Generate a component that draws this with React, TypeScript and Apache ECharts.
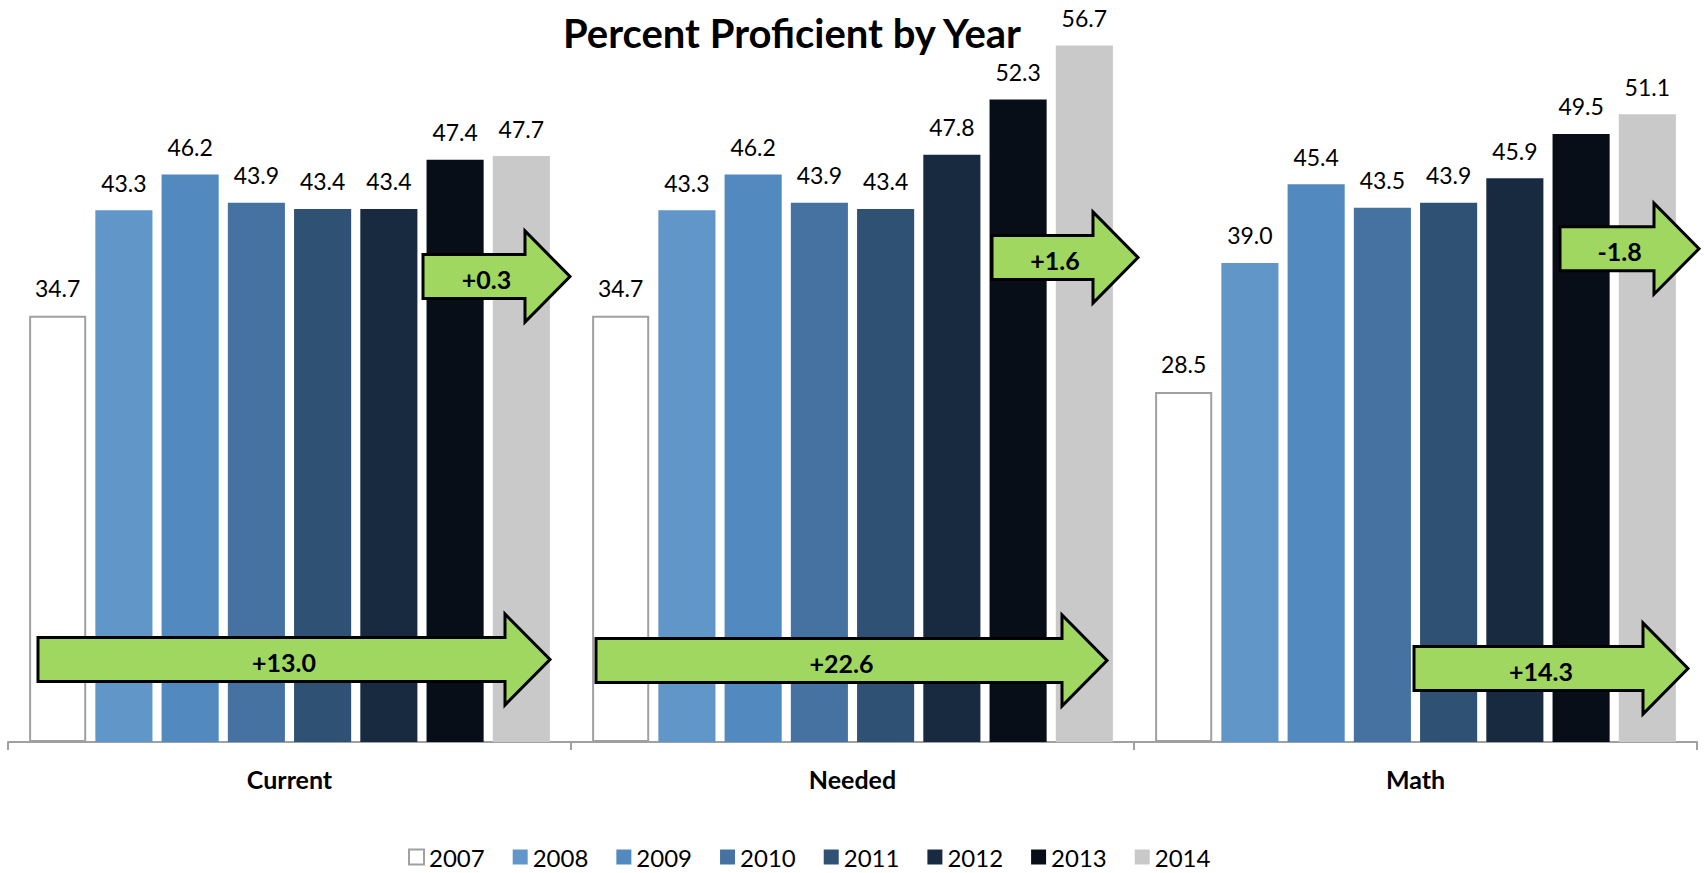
import React, { useEffect, useRef } from "react";
import * as echarts from "echarts";

const TITLE = "Percent Proficient by Year";
const CATEGORIES = ["Current", "Needed", "Math"];
const YEARS = ["2007", "2008", "2009", "2010", "2011", "2012", "2013", "2014"];
const V2007 = [34.7, 34.7, 28.5];
const V2008 = [43.3, 43.3, 39.0];
const V2009 = [46.2, 46.2, 45.4];
const V2010 = [43.9, 43.9, 43.5];
const V2011 = [43.4, 43.4, 43.9];
const V2012 = [43.4, 47.8, 45.9];
const V2013 = [47.4, 52.3, 49.5];
const V2014 = [47.7, 56.7, 51.1];
const SERIES_VALUES = [V2007, V2008, V2009, V2010, V2011, V2012, V2013, V2014];
const COLORS = ["#ffffff", "#6196c8", "#5289be", "#4672a2", "#2f5173", "#182a40", "#080e18", "#c9c9c9"];

// change annotations (arrows): label text
const ARROW_LABELS = ["+0.3", "+13.0", "+1.6", "+22.6", "-1.8", "+14.3"];
// arrow geometry in pixels: left edge, tip x, centre y
const ARROW_GEOM = [
  [423, 570, 276.5],
  [38, 550, 659.5],
  [992, 1138, 257.5],
  [596, 1107, 660.5],
  [1560, 1699, 248.7],
  [1414, 1688, 668.5],
];

const FONT = "Lato, 'Open Sans', 'DejaVu Sans', sans-serif";

function arrowGraphics() {
  const els: any[] = [];
  const bodyHalf = 22;
  const headHalf = 45.5;
  const headLen = 45;
  ARROW_LABELS.forEach((label, i) => {
    const [x0, tip, cy] = ARROW_GEOM[i];
    const hx = tip - headLen;
    els.push({
      type: "polygon",
      z: 100,
      shape: {
        points: [
          [x0, cy - bodyHalf],
          [hx, cy - bodyHalf],
          [hx, cy - headHalf],
          [tip, cy],
          [hx, cy + headHalf],
          [hx, cy + bodyHalf],
          [x0, cy + bodyHalf],
        ],
      },
      style: { fill: "#9fd760", stroke: "#000000", lineWidth: 3, lineJoin: "miter" },
    });
    els.push({
      type: "text",
      z: 101,
      x: (x0 + tip) / 2 - 10,
      y: cy + 2,
      style: {
        text: label,
        align: "center",
        verticalAlign: "middle",
        fontSize: 25,
        fontWeight: "bold",
        fontFamily: FONT,
        fill: "#000000",
      },
    });
  });
  return els;
}

export default function App() {
  const ref = useRef<HTMLDivElement>(null);
  useEffect(() => {
    if (!ref.current) return;
    const chart = echarts.init(ref.current, undefined, { renderer: "svg" });
    const series = YEARS.map((y, i) => ({
      name: y,
      type: "bar",
      data: SERIES_VALUES[i],
      barCategoryGap: "7.5%",
      barGap: "16%",
      itemStyle:
        i === 0
          ? { color: COLORS[i], borderColor: "#a0a0a0", borderWidth: 2 }
          : { color: COLORS[i] },
      label: {
        show: true,
        position: "top",
        distance: 16,
        fontSize: 23,
        lineHeight: 23,
        fontFamily: FONT,
        color: "#000000",
        formatter: (p: any) => Number(p.value).toFixed(1),
      },
    }));
    chart.setOption({
      animation: false,
      backgroundColor: "#ffffff",
      title: {
        text: TITLE,
        left: 787,
        top: 8,
        textAlign: "center",
        textStyle: { fontSize: 40, fontWeight: "bold", fontFamily: FONT, color: "#000000" },
      },
      legend: {
        data: YEARS,
        left: 408,
        top: 844,
        padding: 0,
        icon: "rect",
        itemWidth: 15,
        itemHeight: 15,
        itemGap: 28,
        textStyle: { fontSize: 24, lineHeight: 26, fontFamily: FONT, color: "#000000" },
      },
      grid: { left: 8, right: 7, top: 5, bottom: 131, containLabel: false },
      xAxis: {
        type: "category",
        data: CATEGORIES,
        axisLine: { lineStyle: { color: "#a0a0a0", width: 2 } },
        axisTick: { show: true, length: 8, lineStyle: { color: "#a0a0a0", width: 2 } },
        axisLabel: {
          margin: 24,
          fontSize: 25,
          fontWeight: "bold",
          fontFamily: FONT,
          color: "#000000",
        },
      },
      yAxis: { type: "value", min: 0, max: 60, show: false, splitLine: { show: false } },
      series,
      graphic: arrowGraphics(),
    });
    return () => chart.dispose();
  }, []);
  return (
    <div
      ref={ref}
      style={{ position: "fixed", left: 0, top: 0, width: 1704, height: 873, background: "#fff" }}
    />
  );
}
